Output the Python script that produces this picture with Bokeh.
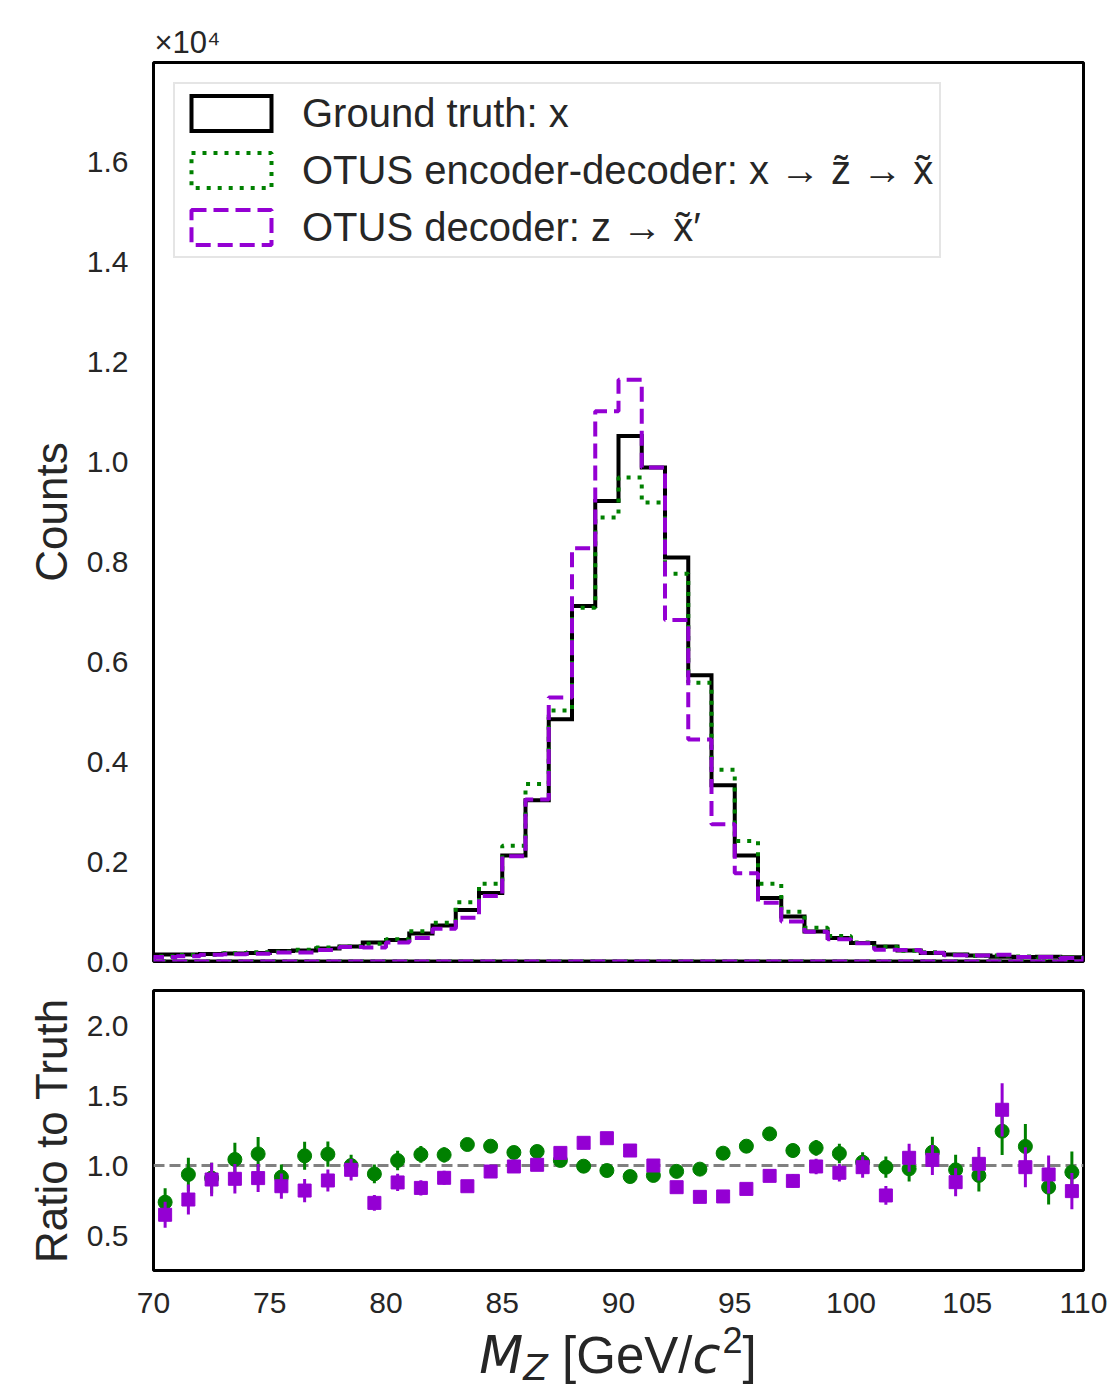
import numpy as np
from bokeh.plotting import figure
from bokeh.models import (Range1d, FixedTicker, CustomJSTickFormatter, NumeralTickFormatter,
                          Legend, LegendItem, Span, Div)
from bokeh.layouts import column
from bokeh.embed import file_html
from bokeh.resources import INLINE

# ---------------- data ----------------
bin_edges = list(range(70, 111))  # 1 GeV bins, 70..110

truth_counts = [140, 140, 150, 160, 170, 210, 220, 260, 300, 380,
                430, 560, 720, 1030, 1370, 2120, 3230, 4850, 7120, 9220,
                10520, 9890, 8090, 5730, 3530, 2120, 1270, 900, 600, 470,
                370, 300, 220, 170, 140, 120, 95, 90, 95, 85]

encdec_counts = [103, 131, 137, 167, 184, 193, 235, 281, 300, 357,
                 445, 604, 775, 1185, 1559, 2317, 3553, 5025, 7084, 8888,
                 9689, 9188, 7766, 5581, 3841, 2413, 1557, 996, 676, 510,
                 379, 296, 215, 186, 136, 111, 118, 102, 80, 81]

dec_counts = [91, 106, 135, 145, 155, 179, 181, 232, 291, 279,
              378, 470, 657, 878, 1311, 2105, 3246, 5287, 8273, 11018,
              11646, 9890, 6836, 4446, 2750, 1766, 1176, 801, 596, 446,
              366, 236, 232, 177, 123, 121, 133, 89, 89, 69]

bin_centers = [70.5 + i for i in range(40)]

ratio_encdec = [0.738, 0.936, 0.91, 1.043, 1.083, 0.917, 1.069, 1.081, 1.0, 0.94,
                1.036, 1.079, 1.076, 1.15, 1.138, 1.093, 1.10, 1.036, 0.995, 0.964,
                0.921, 0.929, 0.958, 0.974, 1.088, 1.138, 1.226, 1.107, 1.126, 1.086,
                1.024, 0.988, 0.976, 1.095, 0.969, 0.929, 1.245, 1.136, 0.845, 0.952]
ratio_encdec_err = [0.10, 0.12, 0.11, 0.12, 0.12, 0.09, 0.10, 0.09, 0.076, 0.067,
                    0.07, 0.06, 0.055, 0.045, 0.035, 0.028, 0.022, 0.018, 0.015, 0.013,
                    0.013, 0.014, 0.016, 0.019, 0.025, 0.03, 0.04, 0.05, 0.057, 0.07,
                    0.07, 0.076, 0.09, 0.11, 0.107, 0.114, 0.17, 0.16, 0.124, 0.148]

ratio_dec = [0.648, 0.757, 0.90, 0.905, 0.91, 0.852, 0.821, 0.893, 0.969, 0.733,
             0.879, 0.84, 0.912, 0.852, 0.957, 0.993, 1.005, 1.09, 1.162, 1.195,
             1.107, 1.0, 0.845, 0.776, 0.779, 0.833, 0.926, 0.89, 0.993, 0.948,
             0.988, 0.786, 1.055, 1.04, 0.881, 1.012, 1.398, 0.988, 0.936, 0.817]
ratio_dec_err = [0.093, 0.107, 0.119, 0.105, 0.10, 0.09, 0.083, 0.078, 0.077, 0.056,
                 0.062, 0.055, 0.05, 0.04, 0.032, 0.026, 0.02, 0.017, 0.015, 0.013,
                 0.013, 0.014, 0.016, 0.018, 0.024, 0.03, 0.038, 0.048, 0.056, 0.063,
                 0.076, 0.067, 0.10, 0.107, 0.10, 0.12, 0.19, 0.143, 0.136, 0.13]

count_ticks = [0, 2000, 4000, 6000, 8000, 10000, 12000, 14000, 16000]
ratio_ticks = [0.5, 1.0, 1.5, 2.0]
mass_ticks = [70, 75, 80, 85, 90, 95, 100, 105, 110]

labels = ["Ground truth: x",
          "OTUS encoder-decoder: x \u2192 z\u0303 \u2192 x\u0303",
          "OTUS decoder: z \u2192 x\u0303\u2032"]

# ---------------- styles ----------------
TXT = "#262626"
FONT = "Liberation Sans"
C_TRUTH, C_ENC, C_DEC = "black", "green", "darkviolet"

def style_axes(p):
    p.grid.visible = False
    p.outline_line_color = "black"
    p.outline_line_width = 3
    p.background_fill_color = "white"
    p.border_fill_color = "white"
    for ax in (p.xaxis, p.yaxis):
        ax.axis_line_color = None
        ax.major_tick_line_color = None
        ax.minor_tick_line_color = None
        ax.major_tick_out = 0
        ax.major_tick_in = 0
        ax.major_label_text_font = FONT
        ax.major_label_text_font_size = "30px"
        ax.major_label_text_color = TXT
        ax.axis_label_text_font = FONT
        ax.axis_label_text_font_size = "44px"
        ax.axis_label_text_font_style = "normal"
        ax.axis_label_text_color = TXT
    p.yaxis.major_label_standoff = 25
    p.yaxis.axis_label_standoff = 8
    p.xaxis.major_label_standoff = 22

def outline(edges, counts):
    # histogram outline (step) as a polygon, as matplotlib's histtype="step"
    xs = np.repeat(np.asarray(edges, dtype=float), 2)
    ys = np.concatenate([[0.0], np.repeat(np.asarray(counts, dtype=float), 2), [0.0]])
    return xs, ys

# ---------------- top panel ----------------
p1 = figure(width=1108, height=979, output_backend="svg", toolbar_location=None,
            x_range=Range1d(70, 110), y_range=Range1d(0, 18000),
            min_border_left=153, min_border_right=25, min_border_top=62, min_border_bottom=18,
            title="\u00d710\u2074")
style_axes(p1)
p1.title.text_font = FONT
p1.title.text_font_size = "31px"
p1.title.text_font_style = "normal"
p1.title.text_color = TXT
p1.title.align = "left"
p1.title.offset = 1
p1.title.standoff = 5
p1.xaxis.visible = False
p1.yaxis.axis_label = "Counts"
p1.yaxis.ticker = FixedTicker(ticks=count_ticks)
p1.yaxis.formatter = CustomJSTickFormatter(code="return (tick/10000).toFixed(1);")

xs, ys = outline(bin_edges, truth_counts)
h1 = p1.patch(xs, ys, fill_alpha=0, line_color=C_TRUTH, line_width=4, line_join="miter")
xs, ys = outline(bin_edges, encdec_counts)
h2 = p1.patch(xs, ys, fill_alpha=0, line_color=C_ENC, line_width=4, line_dash="4 7")
xs, ys = outline(bin_edges, dec_counts)
h3 = p1.patch(xs, ys, fill_alpha=0, line_color=C_DEC, line_width=4, line_dash="15 7")

legend = Legend(items=[LegendItem(label=labels[0], renderers=[h1]),
                       LegendItem(label=labels[1], renderers=[h2]),
                       LegendItem(label=labels[2], renderers=[h3])],
                location="top_left", margin=20, padding=6, spacing=11,
                glyph_width=100, glyph_height=44, label_height=46, label_standoff=21,
                label_text_font=FONT, label_text_font_size="40px", label_text_color=TXT,
                border_line_color="#cccccc", border_line_width=2,
                background_fill_color="white", background_fill_alpha=0.8)
p1.add_layout(legend)

# ---------------- ratio panel ----------------
p2 = figure(width=1108, height=346, output_backend="svg", toolbar_location=None,
            x_range=p1.x_range, y_range=Range1d(0.25, 2.25),
            min_border_left=153, min_border_right=25, min_border_top=11, min_border_bottom=55)
style_axes(p2)
p2.yaxis.axis_label = "Ratio to Truth"
p2.yaxis.ticker = FixedTicker(ticks=ratio_ticks)
p2.yaxis.formatter = NumeralTickFormatter(format="0.0")
p2.xaxis.ticker = FixedTicker(ticks=mass_ticks)
p2.xaxis.formatter = NumeralTickFormatter(format="0")

one = Span(location=1.0, dimension="width", line_color="gray", line_width=3,
           line_dash="11 5", level="underlay")
p2.add_layout(one)

re = np.array(ratio_encdec); ree = np.array(ratio_encdec_err)
rd = np.array(ratio_dec); rde = np.array(ratio_dec_err)

p2.segment(x0=bin_centers, y0=re - ree, x1=bin_centers, y1=re + ree,
           line_color=C_ENC, line_width=3)
p2.scatter(x=bin_centers, y=re, marker="circle", size=14, fill_color=C_ENC, line_color=C_ENC)
p2.segment(x0=bin_centers, y0=rd - rde, x1=bin_centers, y1=rd + rde,
           line_color=C_DEC, line_width=3)
p2.scatter(x=bin_centers, y=rd, marker="square", size=13, fill_color=C_DEC, line_color=C_DEC)

xlabel = Div(text=(
    '<div style="width:930px;margin:0 0 0 153px;padding:6px 0 0 0;text-align:center;color:#262626;'
    'font-family:\'Liberation Sans\',Arial,sans-serif;font-size:51px;line-height:50px;white-space:nowrap;">'
    '<span style="font-family:\'DejaVu Sans\';font-style:italic;">M</span>'
    '<span style="font-family:\'DejaVu Sans\';font-style:italic;font-size:36px;position:relative;top:7px;">Z</span>'
    ' [GeV/<span style="font-family:\'DejaVu Sans\';font-style:italic;">c</span>'
    '<span style="font-size:36px;position:relative;top:-20px;padding-left:2px;">2</span>]</div>'),
    width=1108, height=62, margin=(0, 0, 0, 0))

layout = column(p1, p2, xlabel, spacing=0)

open("out.html", "w").write(file_html(layout, INLINE))
